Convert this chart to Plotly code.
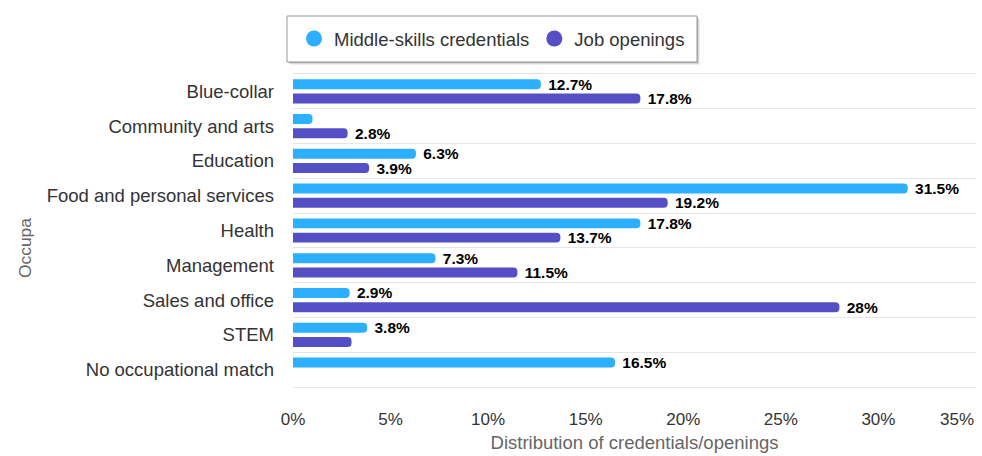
import plotly.graph_objects as go

# Occupational groups, top to bottom
categories = [
    "Blue-collar",
    "Community and arts",
    "Education",
    "Food and personal services",
    "Health",
    "Management",
    "Sales and office",
    "STEM",
    "No occupational match",
]

# Share of each group, in percent
credentials = [12.7, 1.0, 6.3, 31.5, 17.8, 7.3, 2.9, 3.8, 16.5]
job_openings = [17.8, 2.8, 3.9, 19.2, 13.7, 11.5, 28.0, 3.0, None]

# Which value labels are drawn (crowded ones are left off)
credentials_labelled = [True, False, True, True, True, True, True, True, True]
openings_labelled = [True, True, True, True, True, True, True, False, False]

x_tick_values = [0, 5, 10, 15, 20, 25, 30, 35]
x_tick_labels = ["0%", "5%", "10%", "15%", "20%", "25%", "30%", "35%"]

series_names = ["Middle-skills credentials", "Job openings"]
colors = ["#2caffe", "#544fc5"]

FONT = "Liberation Sans, Arial, sans-serif"
W, H = 982, 456
M_L, M_R, M_T, M_B = 293, 6, 74, 69
PW, PH = W - M_L - M_R, H - M_T - M_B


def px_to_paper_x(px):
    return (px - M_L) / PW


def px_to_paper_y(py):
    return (H - M_B - py) / PH


def value_labels(values, shown):
    return [f"{v:g}%" if (v is not None and s) else "" for v, s in zip(values, shown)]


fig = go.Figure()

for name, vals, shown, color in [
    (series_names[0], credentials, credentials_labelled, colors[0]),
    (series_names[1], job_openings, openings_labelled, colors[1]),
]:
    fig.add_trace(
        go.Bar(
            y=categories,
            x=vals,
            orientation="h",
            name=name,
            marker=dict(color=color, cornerradius=5, line=dict(width=0)),
            text=value_labels(vals, shown),
            texttemplate=" %{text}",
            textposition="outside",
            constraintext="none",
            cliponaxis=False,
            outsidetextfont=dict(family=FONT, size=15.5, color="#000000", weight="bold"),
            showlegend=False,
            hoverinfo="skip",
        )
    )

# Round legend symbols
for name, color in zip(series_names, colors):
    fig.add_trace(
        go.Scatter(
            x=[None],
            y=[None],
            mode="markers",
            name=name,
            marker=dict(symbol="circle", size=18, color=color),
            showlegend=True,
        )
    )

# Legend frame with a soft drop shadow
legend_box = (287, 16, 697, 62)  # left, top, right, bottom in pixels
shapes = []
for off, col in [(3, "rgba(0,0,0,0.06)"), (2, "rgba(0,0,0,0.10)"), (1, "rgba(0,0,0,0.16)")]:
    shapes.append(
        dict(
            type="rect",
            xref="paper",
            yref="paper",
            x0=px_to_paper_x(legend_box[0] + off),
            x1=px_to_paper_x(legend_box[2] + off),
            y0=px_to_paper_y(legend_box[3] + off),
            y1=px_to_paper_y(legend_box[1] + off),
            line=dict(width=0),
            fillcolor=col,
            layer="above",
        )
    )
shapes.append(
    dict(
        type="rect",
        xref="paper",
        yref="paper",
        x0=px_to_paper_x(legend_box[0]),
        x1=px_to_paper_x(legend_box[2]),
        y0=px_to_paper_y(legend_box[3]),
        y1=px_to_paper_y(legend_box[1]),
        line=dict(width=1, color="#999999"),
        fillcolor="white",
        layer="above",
    )
)

fig.update_layout(
    width=W,
    height=H,
    margin=dict(l=M_L, r=M_R, t=M_T, b=M_B, autoexpand=False),
    paper_bgcolor="white",
    plot_bgcolor="white",
    barmode="group",
    bargap=0.18,
    bargroupgap=0.3,
    font=dict(family=FONT, size=18.5, color="#333333"),
    shapes=shapes,
    legend=dict(
        orientation="h",
        xref="container",
        yref="container",
        x=(legend_box[0] + legend_box[2]) / 2 / W,
        xanchor="center",
        y=1 - (legend_box[1] + legend_box[3]) / 2 / H,
        yanchor="middle",
        bgcolor="rgba(0,0,0,0)",
        borderwidth=0,
        font=dict(family=FONT, size=18.5, color="#333333"),
        itemsizing="trace",
        traceorder="normal",
    ),
    xaxis=dict(
        range=[0, 35],
        tickmode="array",
        tickvals=x_tick_values,
        ticktext=x_tick_labels[:-1] + [""],
        showgrid=False,
        zeroline=False,
        showline=True,
        linecolor="#e6e6e6",
        linewidth=1,
        mirror=True,
        ticks="",
        ticklabelstandoff=17,
        tickfont=dict(family=FONT, size=17, color="#333333"),
        title=dict(
            text="Distribution of credentials/openings",
            font=dict(family=FONT, size=18.5, color="#666666"),
            standoff=7,
        ),
        fixedrange=True,
    ),
    yaxis=dict(
        type="category",
        categoryorder="array",
        categoryarray=categories,
        autorange="reversed",
        tickson="boundaries",
        showgrid=True,
        gridcolor="#e6e6e6",
        gridwidth=1,
        ticks="",
        ticklen=0,
        ticklabelstandoff=18,
        tickfont=dict(family=FONT, size=18.5, color="#333333"),
        zeroline=False,
        showline=False,
        fixedrange=True,
    ),
    annotations=[
        # last x tick label, kept inside the right edge
        dict(
            text=x_tick_labels[-1],
            x=x_tick_values[-1],
            xref="x",
            y=0,
            yref="paper",
            xanchor="right",
            yanchor="top",
            yshift=-21,
            showarrow=False,
            font=dict(family=FONT, size=17, color="#333333"),
        ),
        # partially visible axis title
        dict(
            text="Occupa",
            x=0,
            xref="paper",
            xshift=-268,
            y=px_to_paper_y(248),
            yref="paper",
            xanchor="center",
            yanchor="middle",
            textangle=-90,
            showarrow=False,
            font=dict(family=FONT, size=17.4, color="#666666"),
        ),
    ],
)

fig.write_html("out.html")
